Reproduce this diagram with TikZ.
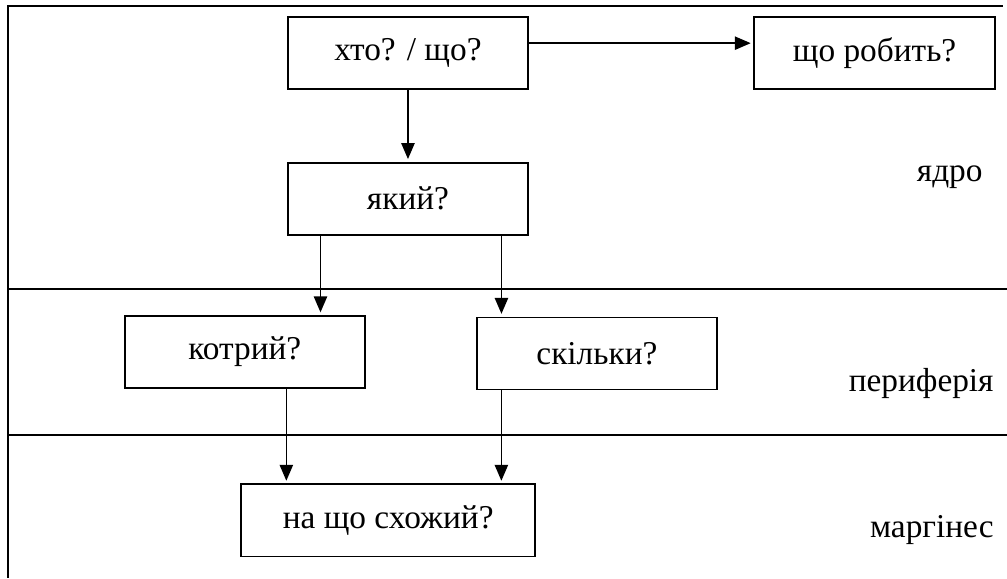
\documentclass[tikz,border=0pt]{standalone}
\usepackage{fontspec}
\setmainfont{Liberation Serif}
\usepackage{tikz}
\usetikzlibrary{positioning, arrows.meta}

\begin{document}
\begin{tikzpicture}
    [node distance=1.92cm,
    question/.style={rectangle, draw, line width=0.7pt, text centered, minimum width=3.17cm,
    minimum height=0.95cm, font=\fontsize{12.5}{14}\selectfont},
    zone/.style={anchor=east, font=\fontsize{12.5}{14}\selectfont},
    frame/.style={line width=1pt},
    arrow/.style={line width=0.6pt, ->, >={Triangle[length=6pt, width=5pt]}, shorten >=1pt}]
    \useasboundingbox (-5.377,0.699) rectangle (7.895,-6.920);
    \node [question] (who) {хто? / що?};
    \node [question, right of=who, node distance=6.15cm] (does) {що робить?};
    \node [question, below of=who] (which) {який?};
    \node [question, below of=which, node distance=2.02cm, xshift=-2.15cm] (whichone) {котрий?};
    \node [question, below of=which, node distance=2.04cm, xshift=2.49cm] (howmany) {скільки?};
    \node [question, below of=which, node distance=4.24cm, xshift=-0.26cm, minimum width=3.87cm]
    (like) {на що схожий?};
    \node [zone] (core) at (7.697,-1.634) {ядро};
    \node [zone] (periphery) at (7.842,-4.349) {периферія};
    \node [zone] (margin) at (7.842,-6.287) {маргінес};

    % frame of the zones
    \draw [frame] (7.842,0.619) -- (-5.272,0.619) -- (-5.272,-6.920);
    \draw [frame] (-5.272,-3.110) -- (7.895,-3.110);
    \draw [frame] (-5.272,-5.035) -- (7.895,-5.035);

    \draw [arrow] ([yshift=0.13cm]who.east) -- ([yshift=0.13cm]who.east -| does.west);
    \draw [arrow] (who) -- (which);
    \draw [arrow] ([xshift=-1.153cm]which.south) -- ([xshift=-1.153cm]which.south |- whichone.north);
    \draw [arrow] ([xshift=1.232cm]which.south) -- ([xshift=1.232cm]which.south |- howmany.north);
    \draw [arrow] ([xshift=0.547cm]whichone.south) -- ([xshift=0.547cm]whichone.south |- like.north);
    \draw [arrow] ([xshift=-1.259cm]howmany.south) -- ([xshift=-1.259cm]howmany.south |- like.north);
  \end{tikzpicture}
\end{document}
